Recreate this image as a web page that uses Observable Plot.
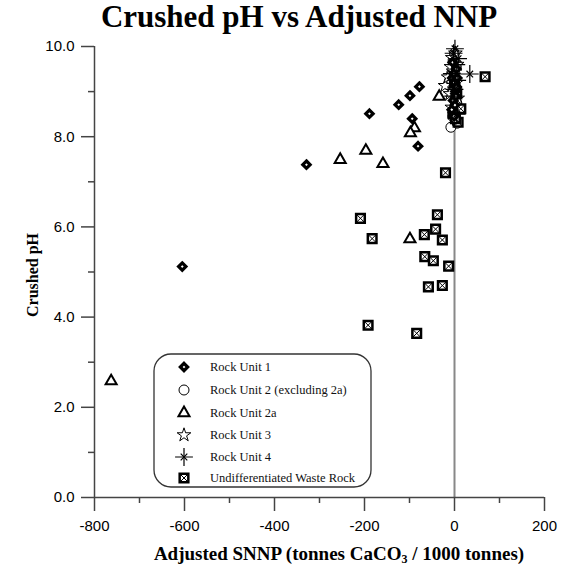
<!DOCTYPE html>
<html>
<head>
<meta charset="utf-8">
<script src="https://cdn.jsdelivr.net/npm/d3@7"></script>
<script src="https://cdn.jsdelivr.net/npm/@observablehq/plot@0.6"></script>
<style>
  html, body { margin: 0; padding: 0; background: #fff; }
  #wrap { position: relative; width: 563px; height: 568px; overflow: hidden; }
  .serif { font-family: "Liberation Serif", "Times New Roman", serif; font-weight: bold; color: #000; position: absolute; white-space: nowrap; }
  #title { font-size: 31px; line-height: 34px; top: 0; left: 299px; transform: translateX(-50%); }
  #xlabel { font-size: 19px; line-height: 20px; top: 544px; left: 339px; transform: translateX(-50%); }
  #xlabel sub { font-size: 12px; vertical-align: -3px; line-height: 0; }
  #ylabel { font-size: 16px; line-height: 18px; left: 33px; top: 275px; transform: translate(-50%, -50%) rotate(-90deg); }
  #legend { position: absolute; left: 153px; top: 353px; }
</style>
</head>
<body>
<div id="wrap">
  <div id="plot"></div>
  <div id="title" class="serif">Crushed pH vs Adjusted NNP</div>
  <div id="xlabel" class="serif">Adjusted SNNP (tonnes CaCO<sub>3</sub> / 1000 tonnes)</div>
  <div id="ylabel" class="serif">Crushed pH</div>
  <div id="legend"></div>
</div>
<script>
// ---- Data ----
const unit1X = [-605, -329, -189, -124, -99, -78, -94, -81, -5, 2, -3, 4, 0, -6, 3, -2, 5, -4, 1, 6, -1];
const unit1Y = [5.12, 7.38, 8.51, 8.71, 8.91, 9.11, 8.40, 7.79, 9.3, 9.0, 8.8, 9.5, 9.2, 8.6, 8.9, 9.4, 9.1, 9.65, 8.7, 9.3, 8.45];

const unit2X = [-8, -4, 2, 5, -2, 3, -6, 1, 4, -3, 0, 6];
const unit2Y = [8.21, 8.45, 8.6, 8.75, 8.95, 9.1, 9.25, 9.4, 9.55, 9.7, 9.85, 8.3];

const unit2aX = [-763, -254, -197, -159, -89, -98, -34, -99, -2, 3];
const unit2aY = [2.58, 7.49, 7.69, 7.40, 8.19, 8.08, 8.89, 5.73, 9.0, 8.7];

const unit3X = [-21, -14, -8, -5, 2, 6, -3, 4, -10, 1, 7, -6];
const unit3Y = [9.13, 9.32, 9.55, 9.75, 9.85, 9.6, 9.45, 9.2, 8.95, 9.05, 8.85, 8.65];

const unit4X = [1, 34, 8, -2, 4, -6, 6, 0, -3, 5];
const unit4Y = [9.95, 9.39, 9.73, 9.85, 9.6, 9.4, 9.25, 9.05, 8.9, 8.5];

const wasteX = [68, -20, -209, -38, -183, -67, -42, -27, -66, -47, -13, -58, -27, -192, -84, 14, 8, -3, 5, 0, 2];
const wasteY = [9.33, 7.20, 6.19, 6.27, 5.74, 5.83, 5.95, 5.71, 5.34, 5.25, 5.13, 4.67, 4.70, 3.82, 3.64, 8.62, 8.32, 8.51, 8.95, 9.2, 8.4];

const seriesNames = ["Rock Unit 1", "Rock Unit 2 (excluding 2a)", "Rock Unit 2a", "Rock Unit 3", "Rock Unit 4", "Undifferentiated Waste Rock"];

const xMajorTicks = [-800, -600, -400, -200, 0, 200];
const xMinorTicks = [-700, -500, -300, -100, 100];
const yMajorTicks = [0, 2, 4, 6, 8, 10];
const yMinorTicks = [1, 3, 5, 7, 9];

// ---- Build tables ----
const toPts = (xs, ys) => xs.map((x, i) => ({x, y: ys[i]}));
const u1 = toPts(unit1X, unit1Y);
const u2 = toPts(unit2X, unit2Y);
const u2a = toPts(unit2aX, unit2aY);
const u3 = toPts(unit3X, unit3Y);
const u4 = toPts(unit4X, unit4Y);
const wr = toPts(wasteX, wasteY);

const axisColor = "#444";
const font = "'Liberation Sans', Arial, sans-serif";

const chart = Plot.plot({
  width: 563,
  height: 568,
  marginLeft: 94,
  marginRight: 19,
  marginTop: 46,
  marginBottom: 71,
  style: {fontFamily: font, fontSize: "15px", color: "#000", background: "#fff"},
  x: {domain: [-800, 200], axis: null},
  y: {domain: [0, 10], axis: null},
  marks: [
    Plot.ruleX([0], {stroke: "#888", strokeWidth: 2}),
    Plot.ruleX([-800], {stroke: axisColor, strokeWidth: 1.5}),
    Plot.ruleY([0], {stroke: axisColor, strokeWidth: 1.5}),
    Plot.axisX({ticks: xMajorTicks, tickSize: 14, tickPadding: 9, tickFormat: d => String(d), stroke: axisColor, strokeWidth: 1.5, fill: "#000", fontSize: 15, fontFamily: font, label: null}),
    Plot.axisX({ticks: xMinorTicks, tickSize: 6, tickFormat: () => "", stroke: axisColor, strokeWidth: 1.5, label: null}),
    Plot.axisY({ticks: yMajorTicks, tickSize: 13, tickPadding: 7, tickFormat: d => d.toFixed(1), stroke: axisColor, strokeWidth: 1.5, fill: "#000", fontSize: 15, fontFamily: font, label: null}),
    Plot.axisY({ticks: yMinorTicks, tickSize: 6, tickFormat: () => "", stroke: axisColor, strokeWidth: 1.5, label: null}),

    // Rock Unit 2a: triangles
    Plot.dot(u2a, {x: "x", y: "y", symbol: "triangle", r: 4.1, stroke: "#000", strokeWidth: 2, fill: "#fff"}),
    // Rock Unit 2: circles
    Plot.dot(u2, {x: "x", y: "y", symbol: "circle", r: 5, stroke: "#000", strokeWidth: 1, fill: "#fff"}),
    // Rock Unit 3: stars
    Plot.dot(u3, {x: "x", y: "y", symbol: "star", r: 4.3, stroke: "#000", strokeWidth: 1, fill: "#fff"}),
    // Undifferentiated waste rock: boxed X
    Plot.dot(wr, {x: "x", y: "y", symbol: "square2", r: 5.5, stroke: "#000", strokeWidth: 2.5, fill: "#fff"}),
    Plot.dot(wr, {x: "x", y: "y", symbol: "times", r: 3.9, stroke: "#000", strokeWidth: 1}),
    // Rock Unit 1: thick diamonds
    Plot.dot(u1, {x: "x", y: "y", symbol: "diamond2", r: 3.3, stroke: "#000", strokeWidth: 3.2, fill: "#fff"}),
    // Rock Unit 4: 8-spoke asterisk
    Plot.dot(u4, {x: "x", y: "y", symbol: "plus", r: 5.8, stroke: "#000", strokeWidth: 1.2}),
    Plot.dot(u4, {x: "x", y: "y", symbol: "times", r: 3.1, stroke: "#000", strokeWidth: 1.2})
  ]
});
document.getElementById("plot").appendChild(chart);

// ---- Legend ----
const lw = 218, lh = 134;
const leg = d3.select("#legend").append("svg").attr("width", lw + 2).attr("height", lh + 2);
leg.append("rect").attr("x", 1).attr("y", 1).attr("width", lw - 1).attr("height", lh - 1)
  .attr("rx", 17).attr("ry", 17).attr("fill", "#fff").attr("stroke", "#333").attr("stroke-width", 1.3);
const rowY = [14, 37, 60, 82, 104, 125];
const symSpecs = [
  [{type: d3.symbolDiamond2, r: 3.3, sw: 3.2, fill: "#fff"}],
  [{type: d3.symbolCircle, r: 5, sw: 1, fill: "#fff"}],
  [{type: d3.symbolTriangle, r: 4.1, sw: 2, fill: "#fff"}],
  [{type: d3.symbolStar, r: 4.3, sw: 1, fill: "#fff"}],
  [{type: d3.symbolPlus, r: 5.8, sw: 1.2, fill: "none"}, {type: d3.symbolTimes, r: 3.1, sw: 1.2, fill: "none"}],
  [{type: d3.symbolSquare2, r: 5.5, sw: 2.5, fill: "#fff"}, {type: d3.symbolTimes, r: 3.9, sw: 1, fill: "none"}]
];
seriesNames.forEach((name, i) => {
  const g = leg.append("g").attr("transform", `translate(31,${rowY[i]})`);
  symSpecs[i].forEach(s => {
    g.append("path").attr("d", d3.symbol(s.type, Math.PI * s.r * s.r)())
      .attr("fill", s.fill).attr("stroke", "#000").attr("stroke-width", s.sw);
  });
  leg.append("text").attr("x", 57).attr("y", rowY[i]).attr("dy", "0.35em")
    .attr("font-family", "'Liberation Serif', 'Times New Roman', serif")
    .attr("font-size", 12.5).attr("fill", "#111").text(name);
});
</script>
</body>
</html>
